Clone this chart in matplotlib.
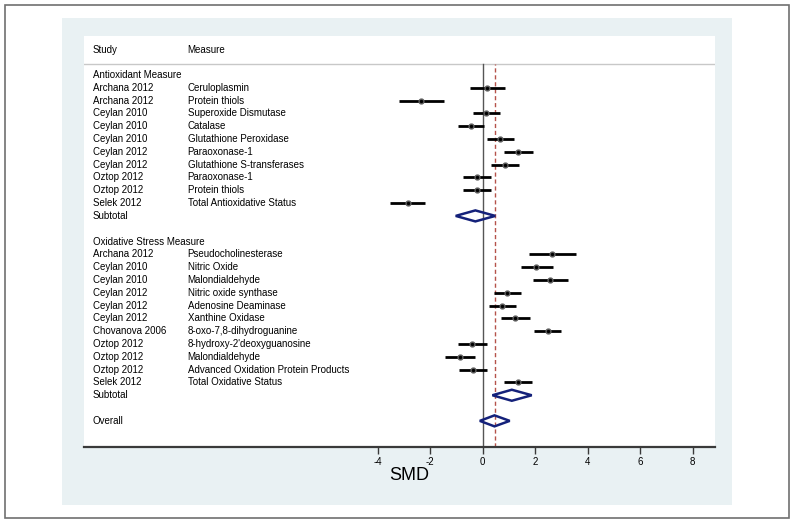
import matplotlib.pyplot as plt
from matplotlib.patches import Rectangle, Polygon
import matplotlib.transforms as mtransforms

plt.rcParams['font.family'] = ['Liberation Sans', 'DejaVu Sans']

# antioxidant group
anti_study = ['Archana 2012', 'Archana 2012', 'Ceylan 2010', 'Ceylan 2010', 'Ceylan 2010',
              'Ceylan 2012', 'Ceylan 2012', 'Oztop 2012', 'Oztop 2012', 'Selek 2012']
anti_measure = ['Ceruloplasmin', 'Protein thiols', 'Superoxide Dismutase', 'Catalase',
                'Glutathione Peroxidase', 'Paraoxonase-1', 'Glutathione S-transferases',
                'Paraoxonase-1', 'Protein thiols', 'Total Antioxidative Status']
anti_es = [0.18, -2.36, 0.13, -0.46, 0.66, 1.36, 0.84, -0.23, -0.20, -2.86]
anti_lo = [-0.47, -3.18, -0.37, -0.96, 0.17, 0.80, 0.33, -0.77, -0.75, -3.54]
anti_hi = [0.84, -1.48, 0.65, 0.05, 1.18, 1.90, 1.37, 0.33, 0.33, -2.19]
anti_sub = (-0.28, -1.03, 0.48)

# oxidative stress group
ox_study = ['Archana 2012', 'Ceylan 2010', 'Ceylan 2010', 'Ceylan 2012', 'Ceylan 2012',
            'Ceylan 2012', 'Chovanova 2006', 'Oztop 2012', 'Oztop 2012', 'Oztop 2012', 'Selek 2012']
ox_measure = ['Pseudocholinesterase', 'Nitric Oxide', 'Malondialdehyde', 'Nitric oxide synthase',
              'Adenosine Deaminase', 'Xanthine Oxidase', '8-oxo-7,8-dihydroguanine',
              "8-hydroxy-2'deoxyguanosine", 'Malondialdehyde', 'Advanced Oxidation Protein Products',
              'Total Oxidative Status']
ox_es = [2.66, 2.05, 2.57, 0.94, 0.75, 1.24, 2.48, -0.39, -0.87, -0.37, 1.33]
ox_lo = [1.76, 1.46, 1.90, 0.43, 0.24, 0.71, 1.96, -0.94, -1.44, -0.91, 0.80]
ox_hi = [3.56, 2.69, 3.24, 1.47, 1.28, 1.81, 3.00, 0.17, -0.29, 0.18, 1.87]
ox_sub = (1.11, 0.37, 1.87)

overall = (0.45, -0.11, 1.03)
xticks = [-4, -2, 0, 2, 4, 6, 8]

W, H = 794, 524
fig = plt.figure(figsize=(W / 100, H / 100), dpi=100)

# background frame and panel, in pixel coordinates
bg = fig.add_axes([0, 0, 1, 1])
bg.set_xlim(0, W)
bg.set_ylim(H, 0)
bg.axis('off')
bg.add_patch(Rectangle((5, 5), 784, 513, facecolor='white', edgecolor='#707070', lw=1.2))
bg.add_patch(Rectangle((62, 18), 670, 487, facecolor='#e9f1f3', edgecolor='none'))
bg.add_patch(Rectangle((84, 36), 631, 411, facecolor='white', edgecolor='none'))

# forest axes
x0, x1, ytop, ybot = 84, 715, 36, 447
ax = fig.add_axes([x0 / W, 1 - ybot / H, (x1 - x0) / W, (ybot - ytop) / H])
ax.patch.set_alpha(0)
ppu = 26.225
zero_px = 482.7
ax.set_xlim((x0 - zero_px) / ppu, (x1 - zero_px) / ppu)
row0, rstep = 75, 12.81
ax.set_ylim((ybot - row0) / rstep, (ytop - row0) / rstep)

for s in ['top', 'right', 'left']:
    ax.spines[s].set_visible(False)
ax.spines['bottom'].set_color('#3a3a3a')
ax.spines['bottom'].set_linewidth(1.6)
ax.set_yticks([])
ax.set_xticks(xticks)
ax.set_xticklabels([str(t) for t in xticks], fontsize=7)
ax.tick_params(axis='x', length=5, width=1, color='#3a3a3a', pad=2)
ax.set_xlabel('SMD', fontsize=13)
ax.xaxis.label.set_va('center')
ax.xaxis.set_label_coords((409 - x0) / (x1 - x0), -(476 - ybot) / (ybot - ytop))

tr = mtransforms.blended_transform_factory(ax.transAxes, ax.transData)
study_x = (92.7 - x0) / (x1 - x0)
meas_x = (187.7 - x0) / (x1 - x0)
fs = 7

hdr_line = (64 - row0) / rstep
ax.text(study_x, (50 - row0) / rstep, 'Study', transform=tr, fontsize=fs, va='center')
ax.text(meas_x, (50 - row0) / rstep, 'Measure', transform=tr, fontsize=fs, va='center')
ax.axhline(hdr_line, color='#c8c8c8', lw=1)

line_top = (ybot - 64) / (ybot - ytop)
ax.axvline(0, ymin=0, ymax=line_top, color='#555555', lw=1)
ax.axvline(overall[0], ymin=0, ymax=line_top, color='#b5524a', lw=1, ls=(0, (3, 2)))

dh = 0.43


def diamond(y, es, lo, hi):
    ax.add_patch(Polygon([(lo, y), (es, y - dh), (hi, y), (es, y + dh)], closed=True,
                         fill=False, edgecolor='#14217a', lw=1.8, zorder=4))


def group(start, title, studies, measures, es, lo, hi, sub):
    ax.text(study_x, start, title, transform=tr, fontsize=fs, va='center')
    for i in range(len(studies)):
        y = start + 1 + i
        ax.text(study_x, y, studies[i], transform=tr, fontsize=fs, va='center')
        ax.text(meas_x, y, measures[i], transform=tr, fontsize=fs, va='center')
        ax.plot([lo[i], hi[i]], [y, y], color='black', lw=2, solid_capstyle='butt', zorder=3)
        ax.plot(es[i], y, 'o', color='black', ms=3.5, mec='#606060', mew=1, zorder=4)
    ys = start + 1 + len(studies)
    ax.text(study_x, ys, 'Subtotal', transform=tr, fontsize=fs, va='center')
    diamond(ys, *sub)
    return ys


end1 = group(0, 'Antioxidant Measure', anti_study, anti_measure, anti_es, anti_lo, anti_hi, anti_sub)
end2 = group(end1 + 2, 'Oxidative Stress Measure', ox_study, ox_measure, ox_es, ox_lo, ox_hi, ox_sub)
ax.text(study_x, end2 + 2, 'Overall', transform=tr, fontsize=fs, va='center')
diamond(end2 + 2, *overall)

fig.savefig('out.png', dpi=100)
